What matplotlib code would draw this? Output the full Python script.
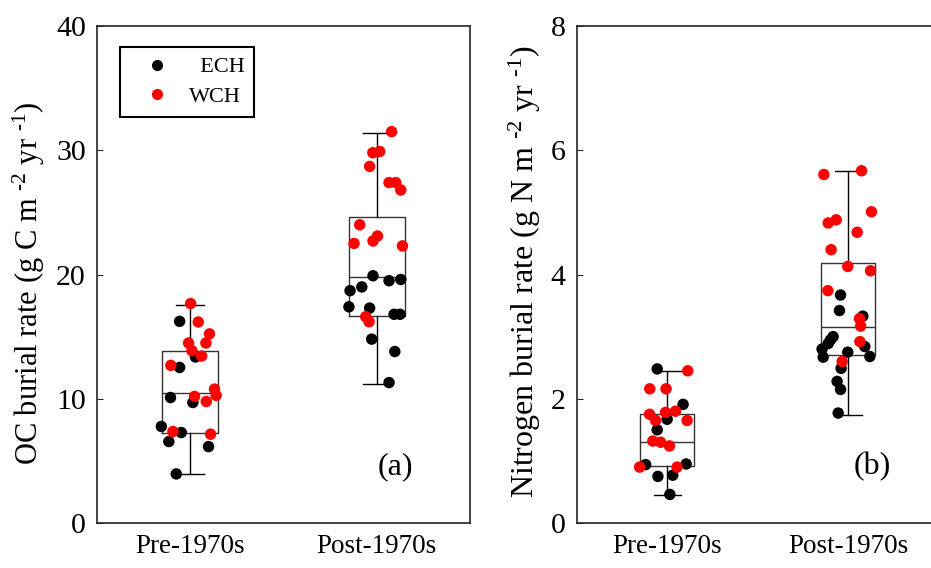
import matplotlib
matplotlib.use("Agg")
import matplotlib.pyplot as plt
import matplotlib.lines as mlines

# Periodos (posicao 1 = Pre, 2 = Post)
periods = ["Pre-1970s", "Post-1970s"]

# OC burial rate (g C m-2 yr-1): x jitterado e valor
oc_pre_ech_x = [0.943, 1.028, 0.943, 0.894, 1.014, 0.845, 0.952, 0.885, 1.098, 0.925]
oc_pre_ech_y = [16.23, 13.36, 12.52, 10.10, 9.70, 7.77, 7.28, 6.56, 6.15, 3.95]
oc_pre_wch_x = [1.002, 1.043, 1.103, 0.991, 1.084, 1.009, 1.061, 0.896, 1.130, 1.139,
                1.023, 1.086, 0.907, 1.109]
oc_pre_wch_y = [17.66, 16.18, 15.22, 14.49, 14.49, 13.87, 13.44, 12.69, 10.78, 10.27,
                10.19, 9.78, 7.36, 7.15]
oc_post_ech_x = [1.980, 2.066, 2.129, 1.920, 1.857, 1.851, 1.962, 2.093, 2.125, 1.973,
                 2.097, 2.066]
oc_post_ech_y = [19.9, 19.5, 19.6, 19.0, 18.7, 17.4, 17.3, 16.8, 16.8, 14.8, 13.8, 11.3]
oc_post_wch_x = [2.080, 1.979, 2.016, 1.962, 2.066, 2.102, 2.129, 1.909, 2.004, 1.980,
                 1.878, 2.138, 1.941, 1.959]
oc_post_wch_y = [31.5, 29.8, 29.9, 28.7, 27.4, 27.4, 26.8, 24.0, 23.1, 22.7, 22.5, 22.3,
                 16.6, 16.2]
# caixas: minimo, Q1, mediana, Q3, maximo
oc_box_pre = [3.93, 7.28, 10.43, 13.82, 17.58]
oc_box_post = [11.2, 16.7, 19.8, 24.6, 31.4]

# Nitrogen burial rate (g N m-2 yr-1)
n_pre_ech_x = [0.945, 1.088, 1.000, 0.945, 0.881, 1.105, 0.949, 1.031, 1.015]
n_pre_ech_y = [2.48, 1.91, 1.67, 1.50, 0.94, 0.95, 0.75, 0.77, 0.46]
n_pre_wch_x = [1.114, 0.904, 0.994, 1.046, 0.991, 0.903, 0.936, 1.110, 0.921, 0.964,
               1.013, 0.848, 1.055]
n_pre_wch_y = [2.45, 2.16, 2.16, 1.80, 1.78, 1.75, 1.65, 1.65, 1.32, 1.30, 1.24, 0.90, 0.90]
n_post_ech_x = [1.958, 1.952, 2.081, 1.917, 1.903, 1.890, 1.856, 2.092, 1.862, 1.998,
                2.120, 1.961, 1.939, 1.958, 1.945]
n_post_ech_y = [3.67, 3.42, 3.33, 3.00, 2.95, 2.89, 2.80, 2.84, 2.67, 2.75, 2.68, 2.49,
                2.28, 2.15, 1.77]
n_post_wch_x = [1.866, 2.074, 2.129, 1.890, 1.934, 2.050, 1.906, 1.998, 2.124, 1.888,
                2.063, 2.069, 2.065, 1.967]
n_post_wch_y = [5.61, 5.67, 5.01, 4.83, 4.88, 4.68, 4.40, 4.13, 4.06, 3.74, 3.29, 3.17,
                2.92, 2.60]
n_box_pre = [0.45, 0.92, 1.31, 1.76, 2.45]
n_box_post = [1.74, 2.71, 3.16, 4.18, 5.66]

plt.rcParams.update(
    {
        "font.family": "serif",
        "font.serif": ["Liberation Serif", "DejaVu Serif"],
        "mathtext.fontset": "custom",
        "mathtext.rm": "Liberation Serif",
        "mathtext.it": "Liberation Serif",
        "font.size": 19.5,
    }
)

fig = plt.figure(figsize=(9.31, 5.68), dpi=100)
ax1 = fig.add_axes([0.1042, 0.0792, 0.4006, 0.875])
ax2 = fig.add_axes([0.6194, 0.0792, 0.3888, 0.875])

box_color = "#333333"
spine_color = "#262626"


def box_stats(vals):
    lo, q1, med, q3, hi = vals
    return dict(whislo=lo, q1=q1, med=med, q3=q3, whishi=hi, fliers=[])


def draw_panel(ax, boxes, pre_ech, pre_wch, post_ech, post_wch, ylim, yticks, ylabel, tag,
               label_size=22):
    ax.bxp(
        [box_stats(b) for b in boxes],
        positions=[1, 2],
        widths=0.30,
        capwidths=0.15,
        showfliers=False,
        boxprops=dict(color=box_color, linewidth=1.0),
        medianprops=dict(color=box_color, linewidth=1.0),
        whiskerprops=dict(color="black", linewidth=1.0),
        capprops=dict(color="black", linewidth=1.0),
        zorder=1,
    )
    for xs, ys in (pre_ech, post_ech):
        ax.scatter(xs, ys, s=68, color="black", edgecolors="none", zorder=2)
    for xs, ys in (pre_wch, post_wch):
        ax.scatter(xs, ys, s=68, color="red", edgecolors="none", zorder=3)
    ax.set_xlim(0.5, 2.5)
    ax.set_ylim(*ylim)
    ax.set_yticks(yticks)
    ax.set_xticks([1, 2])
    ax.set_xticklabels(periods)
    ax.tick_params(direction="in", length=4, width=0.8, color=spine_color, pad=8)
    ax.tick_params(axis="y", labelsize=21.5)
    ax.tick_params(axis="x", length=0)
    for sp in ax.spines.values():
        sp.set_color(spine_color)
        sp.set_linewidth(1.2)
    ax.set_ylabel(ylabel, fontsize=label_size)
    ax.text(0.80, 0.113, tag, transform=ax.transAxes, ha="center", va="center",
            fontsize=23)


draw_panel(
    ax1,
    [oc_box_pre, oc_box_post],
    (oc_pre_ech_x, oc_pre_ech_y),
    (oc_pre_wch_x, oc_pre_wch_y),
    (oc_post_ech_x, oc_post_ech_y),
    (oc_post_wch_x, oc_post_wch_y),
    (0, 40),
    [0, 10, 20, 30, 40],
    r"OC burial rate (g C m $^{\text{-2}}$ yr $^{\text{-1}}$)",
    "(a)",
)
ax1.yaxis.set_label_coords(-0.135, 0.482)

draw_panel(
    ax2,
    [n_box_pre, n_box_post],
    (n_pre_ech_x, n_pre_ech_y),
    (n_pre_wch_x, n_pre_wch_y),
    (n_post_ech_x, n_post_ech_y),
    (n_post_wch_x, n_post_wch_y),
    (0, 8),
    [0, 2, 4, 6, 8],
    r"Nitrogen burial rate (g N m $^{\text{-2}}$ yr $^{\text{-1}}$)",
    "(b)",
    label_size=23,
)
ax2.yaxis.set_label_coords(-0.092, 0.505)
ax2.texts[0].set_position((0.816, 0.113))

handles = [
    mlines.Line2D([], [], color="black", lw=0, marker="o", markersize=7, label="  ECH"),
    mlines.Line2D([], [], color="red", lw=0, marker="o", markersize=7, label="WCH"),
]
leg = ax1.legend(
    handles=handles,
    loc="upper left",
    bbox_to_anchor=(0.062, 0.958),
    borderaxespad=0,
    fontsize=16,
    fancybox=False,
    framealpha=1,
    edgecolor="black",
    handlelength=2.43,
    handletextpad=0.2,
    labelspacing=0.4,
    borderpad=0.45,
)
leg.get_frame().set_linewidth(1.5)

fig.savefig("out.png", dpi=100)
